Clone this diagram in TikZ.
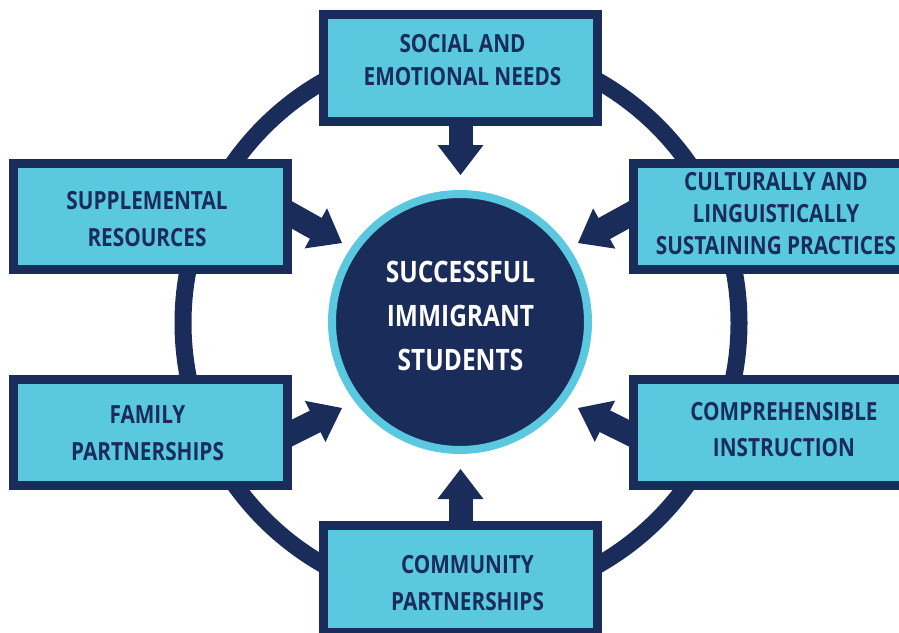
\documentclass[tikz,border=0pt]{standalone}
\usepackage{fontspec}
\newfontfamily\lblfont{Open Sans}[FakeStretch=0.83]
\usetikzlibrary{calc,backgrounds}
\definecolor{navy}{HTML}{192C5A}
\definecolor{sky}{HTML}{5AC8DF}
\tikzset{
  box/.style={draw=navy, fill=sky, line width=9pt, minimum width=274pt, minimum height=106.5pt, inner sep=0pt},
  lbl/.style={text=navy, align=center, inner sep=0pt, font=\lblfont\bfseries\fontsize{25}{#1}\selectfont},
  corelbl/.style={text=white, align=center, inner sep=0pt, font=\lblfont\bfseries\fontsize{29.5}{44}\selectfont},
  shaft/.style={draw=navy, line width=24pt, shorten >=28pt},
  head/.style={fill=navy},
  ringline/.style={draw=navy, line width=17pt},
}
\newcommand\fatarrow[3]{%
  \draw[shaft] (#1) -- (#2);
  \coordinate (#3) at ($(#2)!30pt!(#1)$);
  \fill[head] (#2) -- ($(#3)!23pt!90:(#2)$) -- ($(#3)!23pt!-90:(#2)$) -- cycle;
}
\begin{document}
\begin{tikzpicture}[x=1pt,y=-1pt]
\useasboundingbox (0,0) rectangle (899,632);
\clip (0,0) rectangle (899,632);

% boxes
\node[box] (sen) at (460.5,68) {};
\node[box] (sup) at (150.5,216.5) {};
\node[box] (fam) at (150.5,432.5) {};
\node[box] (cul) at (770.5,216.5) {};
\node[box] (ci)  at (770.5,432.5) {};
\node[box] (com) at (460.5,579) {};

% central circle
\node[circle, fill=navy, draw=sky, line width=8pt, minimum size=256pt, inner sep=0pt] (core) at (460,322) {};

% arrow end points
\coordinate (t1) at (342,243);
\coordinate (t2) at (578,243);
\coordinate (t3) at (342,408);
\coordinate (t4) at (578,408);
\coordinate (t5) at (460.5,175);
\coordinate (t6) at (460.5,469);
\coordinate (s1) at ($(sup.east)+(-17,-11)$);
\coordinate (s2) at ($(cul.west)+(17,-11)$);
\coordinate (s3) at ($(fam.east)+(-17,9)$);
\coordinate (s4) at ($(ci.west)+(17,9)$);

\begin{scope}[on background layer]
  \draw[ringline] (461,323) circle[radius=278pt];
  \fatarrow{s1}{t1}{b1}
  \fatarrow{s2}{t2}{b2}
  \fatarrow{s3}{t3}{b3}
  \fatarrow{s4}{t4}{b4}
  \fatarrow{sen.south}{t5}{b5}
  \fatarrow{com.north}{t6}{b6}
\end{scope}

% labels
\node[lbl=33] (sen-t) at (462.5,60.5) {SOCIAL AND\\EMOTIONAL NEEDS};
\node[lbl=37] (sup-t) at (147,219.5) {SUPPLEMENTAL\\RESOURCES};
\node[lbl=37] (fam-t) at (147.5,433.5) {FAMILY\\PARTNERSHIPS};
\node[lbl=32] (cul-t) at (776,214) {CULTURALLY AND\\LINGUISTICALLY\\SUSTAINING PRACTICES};
\node[lbl=36] (ci-t)  at (784,429.5) {COMPREHENSIBLE\\INSTRUCTION};
\node[lbl=37] (com-t) at (467.5,583.5) {COMMUNITY\\PARTNERSHIPS};
\node[corelbl] (core-t) at (460.5,316) {SUCCESSFUL\\IMMIGRANT\\STUDENTS};
\end{tikzpicture}
\end{document}
